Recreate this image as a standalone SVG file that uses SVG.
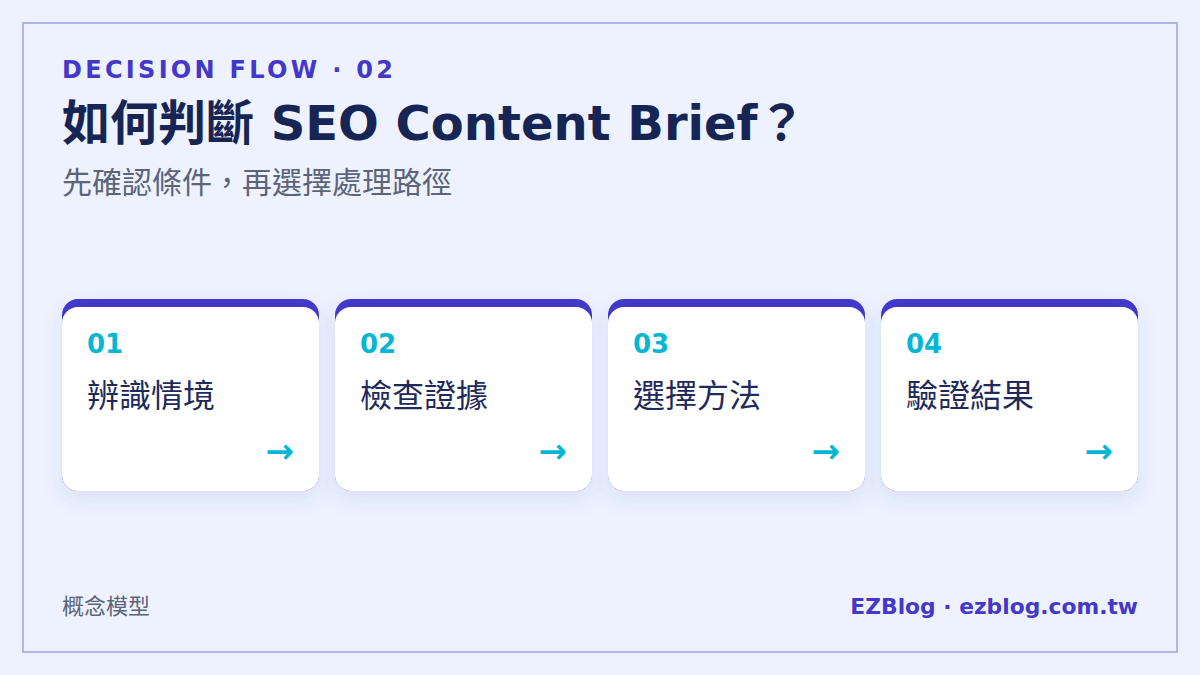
<svg xmlns="http://www.w3.org/2000/svg" width="1200" height="675" viewBox="0 0 1200 675">
<defs>
<filter id="sh" x="-20%" y="-20%" width="140%" height="150%">
<feDropShadow dx="0" dy="8" stdDeviation="10" flood-color="#3b4a9a" flood-opacity="0.11"/>
</filter>
<style>
.f{font-family:"DejaVu Sans","Noto Sans CJK TC",sans-serif}
.kick{font-size:24px;font-weight:bold;fill:#4338ca;letter-spacing:3.3px}
.title{font-size:48px;font-weight:bold;fill:#172554}
.sub{font-size:30px;fill:#5b6478;font-family:"Noto Sans CJK TC",sans-serif}
.num{font-size:26px;font-weight:bold;fill:#06b6d4}
.lab{font-size:32px;fill:#1e2a5a;font-family:"Noto Sans CJK TC",sans-serif}
.arr{font-size:34px;fill:#06b6d4;font-weight:bold}
.foot{font-size:22px;fill:#5b6478;font-family:"Noto Sans CJK TC",sans-serif}
.brand{font-size:21.8px;font-weight:bold;fill:#4338ca}
.top{fill:#4338ca}
.card{fill:#ffffff}
</style>
</defs>
<rect width="1200" height="675" fill="#eef2ff"/>
<rect x="23" y="23" width="1154" height="629" fill="none" stroke="#b3b6ea" stroke-width="2"/>
<g id="header">
<text class="f kick" x="62" y="78">DECISION FLOW · 02</text>
<text class="f title" x="62" y="140">如何判斷 SEO Content Brief？</text>
<text class="sub" x="62" y="193">先確認條件，再選擇處理路徑</text>
</g>
<g id="node1">
<g filter="url(#sh)"><rect class="top" x="62" y="299" width="257" height="192" rx="16"/><rect class="card" x="62" y="307" width="257" height="184" rx="16"/></g>
<text class="f num" x="87" y="353">01</text>
<text class="lab" x="87" y="407">辨識情境</text>
<text class="f arr" x="294" y="463" text-anchor="end">→</text>
</g>
<g id="node2">
<g filter="url(#sh)"><rect class="top" x="335" y="299" width="257" height="192" rx="16"/><rect class="card" x="335" y="307" width="257" height="184" rx="16"/></g>
<text class="f num" x="360" y="353">02</text>
<text class="lab" x="360" y="407">檢查證據</text>
<text class="f arr" x="567" y="463" text-anchor="end">→</text>
</g>
<g id="node3">
<g filter="url(#sh)"><rect class="top" x="608" y="299" width="257" height="192" rx="16"/><rect class="card" x="608" y="307" width="257" height="184" rx="16"/></g>
<text class="f num" x="633" y="353">03</text>
<text class="lab" x="633" y="407">選擇方法</text>
<text class="f arr" x="840" y="463" text-anchor="end">→</text>
</g>
<g id="node4">
<g filter="url(#sh)"><rect class="top" x="881" y="299" width="257" height="192" rx="16"/><rect class="card" x="881" y="307" width="257" height="184" rx="16"/></g>
<text class="f num" x="906" y="353">04</text>
<text class="lab" x="906" y="407">驗證結果</text>
<text class="f arr" x="1113" y="463" text-anchor="end">→</text>
</g>
<g id="connectors"></g>
<g id="footer">
<text class="foot" x="62" y="614">概念模型</text>
<text class="f brand" x="1138" y="614" text-anchor="end">EZBlog · ezblog.com.tw</text>
</g>
</svg>
